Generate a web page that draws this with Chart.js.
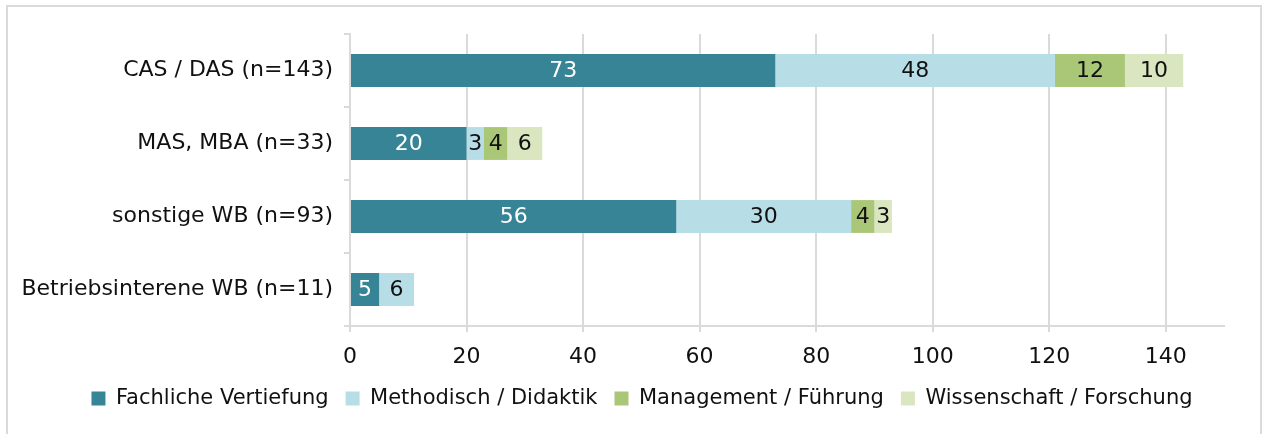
<!DOCTYPE html>
<html>
<head>
<meta charset="utf-8">
<script src="https://cdn.jsdelivr.net/npm/chart.js@4/dist/chart.umd.min.js"></script>
<style>
  html, body { margin: 0; padding: 0; background: #fff; overflow: hidden; }
  #wrap { position: relative; width: 1262px; height: 434px; }
  #frame { position: absolute; left: 6px; top: 5px; width: 1252px; height: 440px;
           border: 2px solid #dadada; pointer-events: none; }
</style>
</head>
<body>
<div id="wrap">
  <canvas id="chart" width="1262" height="434"></canvas>
  <div id="frame"></div>
</div>
<script>
// Kategorien und Werte
const categories = ['CAS / DAS (n=143)', 'MAS, MBA (n=33)', 'sonstige WB (n=93)', 'Betriebsinterene WB (n=11)'];
const fachlich = [73, 20, 56, 5];
const methodisch = [48, 3, 30, 6];
const management = [12, 4, 4, 0];
const wissenschaft = [10, 6, 3, 0];
const xTicks = [0, 20, 40, 60, 80, 100, 120, 140];

const FONT = '"DejaVu Sans", sans-serif';
const SIZE = 22;
const LEGEND_SIZE = 21;

// Beschriftungen in den Balken
const barLabels = {
    id: 'barLabels',
    afterDatasetsDraw(chart) {
        const ctx = chart.ctx;
        ctx.save();
        ctx.font = SIZE + 'px ' + FONT;
        ctx.textAlign = 'center';
        ctx.textBaseline = 'middle';
        chart.data.datasets.forEach((ds, i) => {
            chart.getDatasetMeta(i).data.forEach((bar, j) => {
                const v = ds.data[j];
                if (!v) return;
                ctx.fillStyle = i === 0 ? '#ffffff' : '#111111';
                ctx.fillText(String(v), (bar.x + bar.base) / 2, bar.y + 1);
            });
        });
        ctx.restore();
    }
};

// Legende etwas nach rechts schieben (wie im Original)
const shiftLegend = {
    id: 'shiftLegend',
    afterLayout(chart) {
        chart.legend.left += 60;
    }
};

new Chart(document.getElementById('chart'), {
    type: 'bar',
    data: {
        labels: categories,
        datasets: [
            { label: 'Fachliche Vertiefung', data: fachlich, backgroundColor: '#378497' },
            { label: 'Methodisch / Didaktik', data: methodisch, backgroundColor: '#b7dde7' },
            { label: 'Management / Führung', data: management, backgroundColor: '#aac677' },
            { label: 'Wissenschaft / Forschung', data: wissenschaft, backgroundColor: '#d9e6bf' }
        ]
    },
    options: {
        indexAxis: 'y',
        responsive: false,
        animation: false,
        datasets: { bar: { categoryPercentage: 1, barPercentage: 0.45, borderWidth: 0 } },
        layout: { padding: { top: 34, right: 38, left: 0, bottom: 15 } },
        plugins: {
            tooltip: { enabled: false },
            legend: {
                position: 'bottom',
                labels: {
                    font: { family: FONT, size: LEGEND_SIZE },
                    color: '#111111',
                    boxWidth: 14,
                    boxHeight: 14,
                    padding: 17
                }
            }
        },
        scales: {
            x: {
                stacked: true,
                min: 0,
                max: 150,
                ticks: { stepSize: 20, font: { family: FONT, size: SIZE }, color: '#111111', padding: 12 },
                afterBuildTicks: (scale) => {
                    scale.ticks = xTicks.map(v => ({ value: v }));
                },
                grid: { color: '#dadada', lineWidth: 2, tickLength: 6 },
                border: { color: '#dadada', width: 2 },
                afterFit: (scale) => { scale.height = 45; }
            },
            y: {
                stacked: true,
                ticks: { font: { family: FONT, size: SIZE }, color: '#111111', padding: 11 },
                grid: { drawOnChartArea: false, color: '#dadada', lineWidth: 2, tickLength: 6 },
                border: { color: '#dadada', width: 2 },
                afterFit: (scale) => { scale.width = 350; }
            }
        }
    },
    plugins: [barLabels, shiftLegend]
});
</script>
</body>
</html>
